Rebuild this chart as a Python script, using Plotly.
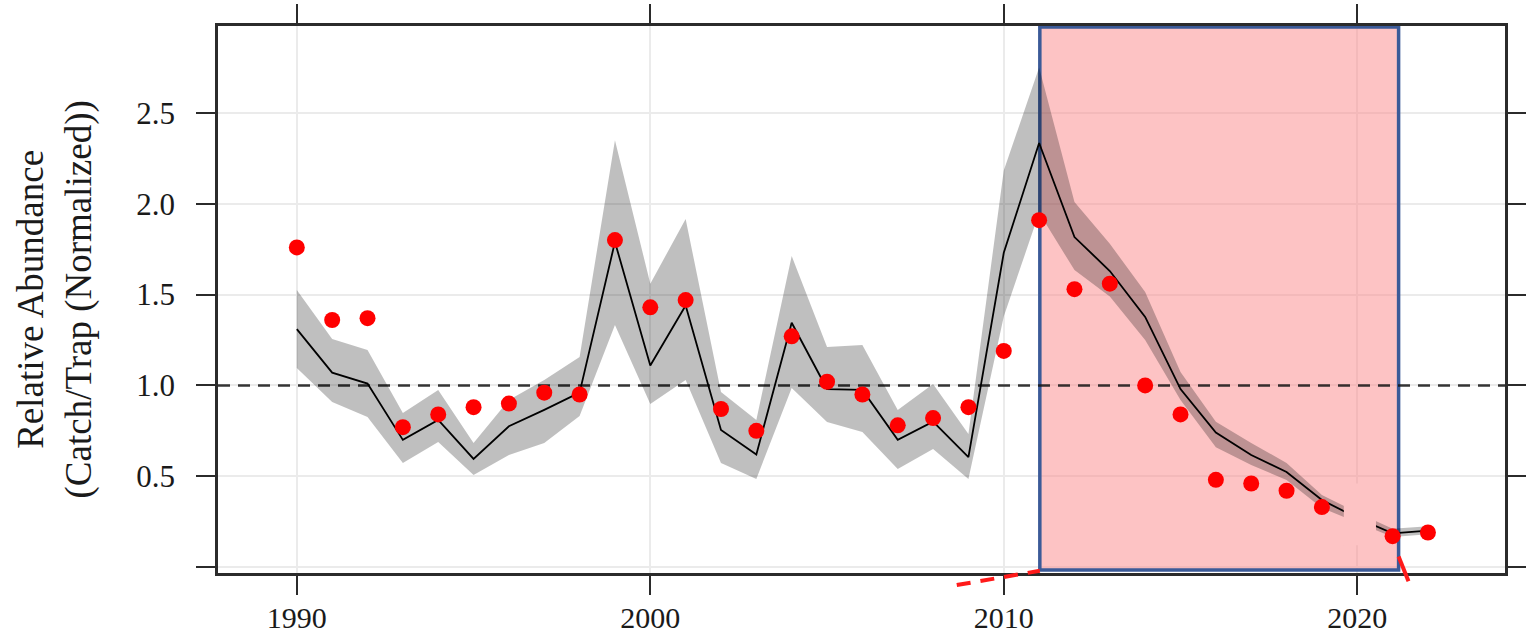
import plotly.graph_objects as go

# ---------------- data ----------------
years = list(range(1990, 2023))

observed = [1.76, 1.36, 1.37, 0.77, 0.84, 0.88, 0.90, 0.96, 0.95, 1.80,
            1.43, 1.47, 0.87, 0.75, 1.27, 1.02, 0.95, 0.78, 0.82, 0.88,
            1.19, 1.91, 1.53, 1.56, 1.00, 0.84, 0.48, 0.46, 0.42, 0.33,
            None, 0.17, 0.19]

fitted = [1.31, 1.07, 1.01, 0.70, 0.81, 0.595, 0.775, 0.865, 0.96, 1.79,
          1.11, 1.44, 0.755, 0.62, 1.345, 0.98, 0.975, 0.70, 0.80, 0.605,
          1.73, 2.335, 1.817, 1.63, 1.377, 0.98, 0.74, 0.617, 0.523, 0.369,
          0.27, 0.185, 0.20]

upper = [1.525, 1.255, 1.195, 0.848, 0.975, 0.683, 0.92, 1.03, 1.157, 2.35,
         1.56, 1.916, 0.964, 0.81, 1.713, 1.211, 1.222, 0.864, 1.008, 0.732,
         2.183, 2.75, 2.01, 1.78, 1.514, 1.074, 0.80, 0.683, 0.573, 0.396,
         0.30, 0.21, 0.225]

lower = [1.096, 0.909, 0.826, 0.573, 0.688, 0.507, 0.617, 0.683, 0.831, 1.333,
         0.898, 1.03, 0.573, 0.485, 0.986, 0.798, 0.743, 0.54, 0.65, 0.485,
         1.38, 1.95, 1.635, 1.49, 1.25, 0.92, 0.66, 0.562, 0.479, 0.325,
         0.245, 0.165, 0.18]

x_ticks = [1990, 2000, 2010, 2020]
y_ticks = [0, 0.5, 1.0, 1.5, 2.0, 2.5]
y_tick_text = ["", "0.5", "1.0", "1.5", "2.0", "2.5"]

x_range = [1987.77, 2024.18]
y_range = [-0.033, 2.979]
reference_level = 1.0
box_x = [2011.02, 2021.17]
box_y = [-0.017, 2.974]
patch_x = [2019.62, 2020.53]
patch_y = [0.12, 0.46]

y_title = "Relative Abundance<br>(Catch/Trap (Normalized))"

FONT = "Liberation Serif, Times New Roman, serif"
FRAME = "#2b2b2b"

# ---------------- figure ----------------
fig = go.Figure()

# dashed reference line (drawn first so the band sits above it)
fig.add_trace(go.Scatter(
    x=x_range, y=[reference_level, reference_level], mode="lines",
    line=dict(color="rgba(20,20,20,0.85)", width=2.5, dash="12px,8px"),
    hoverinfo="skip", showlegend=False))

fig.add_trace(go.Scatter(
    x=years + years[::-1], y=upper + lower[::-1],
    fill="toself", fillcolor="rgba(0,0,0,0.25)",
    line=dict(width=0), mode="lines", hoverinfo="skip", showlegend=False))

fig.add_trace(go.Scatter(
    x=years, y=fitted, mode="lines",
    line=dict(color="black", width=1.8), showlegend=False))

fig.add_trace(go.Scatter(
    x=years, y=observed, mode="markers",
    marker=dict(color="#ff0000", size=16, line=dict(width=0)),
    showlegend=False))

shapes = [
    # highlighted period
    dict(type="rect", xref="x", yref="y", x0=box_x[0], x1=box_x[1],
         y0=box_y[0], y1=box_y[1], layer="between",
         fillcolor="rgba(252,135,138,0.5)",
         line=dict(color="#3b5a98", width=3.5)),
    # retouched patch in the original picture
    dict(type="rect", xref="x", yref="y", x0=patch_x[0], x1=patch_x[1],
         y0=patch_y[0], y1=patch_y[1], layer="above",
         fillcolor="#fdc3c4", line=dict(width=0)),
    # red connector lines below the box corners
    dict(type="line", xref="x", yref="paper", x0=2008.67, y0=-0.022,
         x1=box_x[0], y1=0.004, layer="above",
         line=dict(color="#ff1a1a", width=4, dash="14px,10px")),
    dict(type="line", xref="x", yref="paper", x0=box_x[1], y0=0.03,
         x1=2021.45, y1=-0.015, layer="above",
         line=dict(color="#ff1a1a", width=4)),
]

fig.update_layout(
    width=1526, height=637,
    margin=dict(l=218, r=21, t=26, b=64),
    paper_bgcolor="white", plot_bgcolor="white",
    font=dict(family=FONT, size=31, color="#1a1a1a"),
    shapes=shapes,
    annotations=[dict(
        text=y_title, xref="paper", yref="paper",
        x=(54 - 218) / 1287, y=0.5, xanchor="center", yanchor="middle",
        textangle=-90, showarrow=False,
        font=dict(family=FONT, size=37, color="#1a1a1a"))],
)

fig.update_xaxes(
    range=x_range, tickvals=x_ticks, ticktext=[str(t) for t in x_ticks],
    tickfont=dict(size=30),
    showgrid=True, gridcolor="#ebebeb", gridwidth=1.5, zeroline=False,
    showline=True, linecolor=FRAME, linewidth=2.5, mirror="allticks",
    ticks="outside", ticklen=19, tickwidth=2, tickcolor=FRAME,
    ticklabelstandoff=-3, automargin=False)

fig.update_yaxes(
    range=y_range, tickvals=y_ticks, ticktext=y_tick_text,
    showgrid=True, gridcolor="#ebebeb", gridwidth=1.5, zeroline=False,
    showline=True, linecolor=FRAME, linewidth=2.5, mirror="allticks",
    ticks="outside", ticklen=19, tickwidth=2, tickcolor=FRAME,
    ticklabelstandoff=15, automargin=False)

fig.write_html(
    "out.html",
    config={"displayModeBar": False},
    post_script="document.body.style.margin='0px';document.body.style.overflow='hidden';")
